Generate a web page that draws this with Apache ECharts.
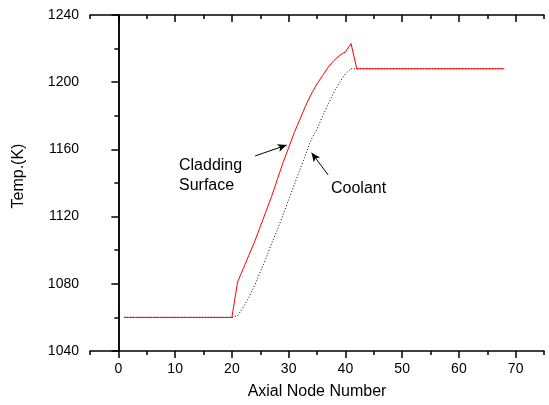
<!DOCTYPE html>
<html>
<head>
<meta charset="utf-8">
<script src="https://cdn.jsdelivr.net/npm/echarts@6/dist/echarts.min.js"></script>
<style>
  html, body { margin: 0; padding: 0; background: #fff; }
  #chart { width: 549px; height: 405px; }
</style>
</head>
<body>
<div id="chart"></div>
<script>
// Axial node numbers 1..68
const nodes = [];
for (let n = 1; n <= 68; n++) nodes.push(n);

// Cladding surface temperature (K), nodes 20..42; flat before and after
const claddingRise = [1060, 1081, 1089, 1097, 1105, 1114, 1123, 1132, 1142, 1152, 1161,
  1170, 1178, 1186, 1193, 1199, 1204, 1209, 1213, 1216, 1218, 1223, 1208];
// Coolant temperature (K), nodes 20..42
const coolantRise = [1060, 1061, 1066, 1072, 1079, 1087, 1095, 1104, 1112, 1121, 1130,
  1139, 1148, 1157, 1166, 1172, 1180, 1187, 1194, 1200, 1205, 1208, 1208];
const inletTemp = 1060;
const outletTemp = 1208;

const xMajorTicks = [0, 10, 20, 30, 40, 50, 60, 70];
const xMinorTicks = [-5, 5, 15, 25, 35, 45, 55, 65, 75];

// Annotation arrows: [tail, head] in (node, K)
const claddingArrow = [[24.1, 1156.1], [29.65, 1162.6]];
const coolantArrow = [[36.96, 1144.8], [34.04, 1158.0]];

function profile(rise) {
  return nodes.map(n => {
    if (n < 20) return [n, inletTemp];
    if (n <= 42) return [n, rise[n - 20]];
    return [n, outletTemp];
  });
}

const FONT = 'Liberation Sans, Arial, Helvetica, sans-serif';
const black = '#000';
const plain = v => String(v);

const chart = echarts.init(document.getElementById('chart'), null, { renderer: 'canvas' });

const baseX = { type: 'value', min: -5, max: 75, interval: 5, splitLine: { show: false } };
const baseY = { type: 'value', min: 1040, max: 1240, interval: 40, splitLine: { show: false } };

chart.setOption({
  animation: false,
  backgroundColor: '#fff',
  grid: { left: 90, right: 5, top: 15, bottom: 54, containLabel: false },
  xAxis: [
    Object.assign({}, baseX, {
      position: 'bottom',
      name: 'Axial Node Number',
      nameLocation: 'middle',
      nameGap: 33,
      nameTextStyle: { color: black, fontSize: 16, fontFamily: FONT },
      axisLine: { show: true, lineStyle: { color: black, width: 1.5 } },
      axisTick: { show: true, customValues: xMajorTicks, length: 7, lineStyle: { color: black, width: 1.5 } },
      axisLabel: { show: true, customValues: xMajorTicks, formatter: plain, margin: 11, color: black, fontSize: 14, fontFamily: FONT }
    }),
    Object.assign({}, baseX, {
      position: 'bottom',
      axisLine: { show: false },
      axisTick: { show: true, customValues: xMinorTicks, length: 4, lineStyle: { color: black, width: 1.5 } },
      axisLabel: { show: false }
    }),
    Object.assign({}, baseX, {
      position: 'top',
      axisLine: { show: true, lineStyle: { color: black, width: 1.5 } },
      axisTick: { show: true, inside: true, customValues: xMajorTicks, length: 7, lineStyle: { color: black, width: 1.5 } },
      axisLabel: { show: false }
    }),
    Object.assign({}, baseX, {
      position: 'top',
      axisLine: { show: false },
      axisTick: { show: true, inside: true, customValues: xMinorTicks, length: 4, lineStyle: { color: black, width: 1.5 } },
      axisLabel: { show: false }
    })
  ],
  yAxis: [
    Object.assign({}, baseY, {
      position: 'left',
      axisLine: { show: true, lineStyle: { color: black, width: 1.5 } },
      axisTick: { show: true, length: 7, lineStyle: { color: black, width: 1.5 } },
      minorTick: { show: true, splitNumber: 2, length: 4, lineStyle: { color: black, width: 1.5 } },
      axisLabel: { show: true, formatter: plain, margin: 11, color: black, fontSize: 14, fontFamily: FONT }
    }),
    Object.assign({}, baseY, {
      position: 'right',
      axisLine: { show: true, lineStyle: { color: black, width: 1.5 } },
      axisTick: { show: true, inside: true, length: 7, lineStyle: { color: black, width: 1.5 } },
      minorTick: { show: true, splitNumber: 2, length: 4, lineStyle: { color: black, width: 1.5 } },
      axisLabel: { show: false }
    })
  ],
  graphic: [
    { type: 'text', x: 19, y: 176, rotation: Math.PI / 2,
      style: { text: 'Temp.(K)', fill: black, font: '16px ' + FONT, align: 'center', verticalAlign: 'middle' } },
    { type: 'text', left: 179, top: 156,
      style: { text: 'Cladding\nSurface', fill: black, font: '16px ' + FONT, lineHeight: 20 } },
    { type: 'text', left: 331, top: 181,
      style: { text: 'Coolant', fill: black, font: '16px ' + FONT } }
  ],
  series: [
    {
      name: 'Coolant',
      type: 'line',
      xAxisIndex: 0, yAxisIndex: 0,
      data: profile(coolantRise),
      showSymbol: false, symbol: 'none',
      lineStyle: { color: black, width: 1, type: [1, 2] },
      z: 2,
      markLine: {
        silent: true,
        symbol: ['none', 'arrow'],
        symbolSize: [6, 9],
        label: { show: false },
        lineStyle: { color: black, width: 1, type: 'solid' },
        data: [
          [{ coord: claddingArrow[0] }, { coord: claddingArrow[1] }],
          [{ coord: coolantArrow[0] }, { coord: coolantArrow[1] }]
        ]
      }
    },
    {
      name: 'Cladding Surface',
      type: 'line',
      xAxisIndex: 0, yAxisIndex: 0,
      data: profile(claddingRise),
      showSymbol: false, symbol: 'none',
      lineStyle: { color: '#ff0000', width: 1 },
      z: 3
    }
  ]
});
</script>
</body>
</html>
